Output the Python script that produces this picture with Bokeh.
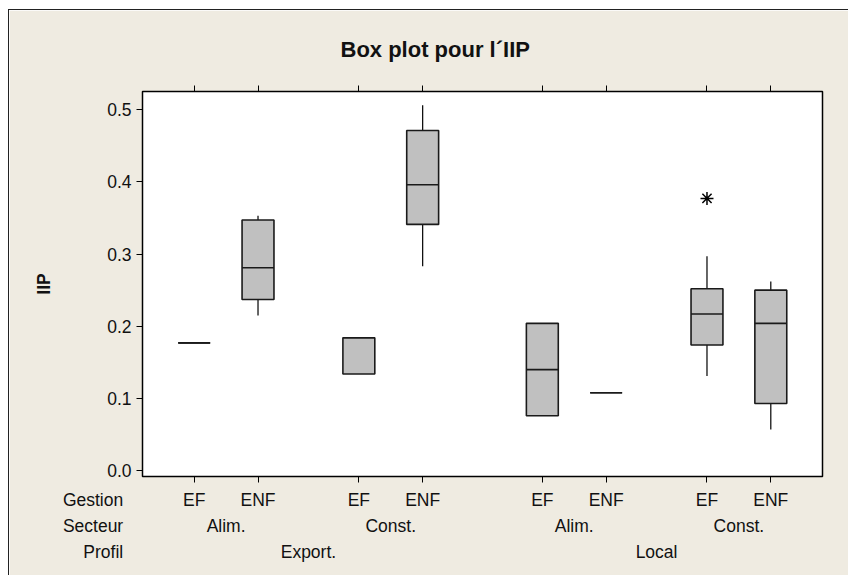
from bokeh.plotting import figure
from bokeh.models import (FactorRange, Range1d, CategoricalAxis, FixedTicker,
                          PrintfTickFormatter, ColumnDataSource)
from bokeh.core.properties import value
from bokeh.embed import file_html
from bokeh.resources import INLINE

# ---- data ----
profil = ["Export.", "Export.", "Export.", "Export.", "Local", "Local", "Local", "Local"]
secteur = ["Alim.", "Alim.", "Const.", "Const.", "Alim.", "Alim.", "Const.", "Const."]
gestion = ["EF", "ENF", "EF", "ENF", "EF", "ENF", "EF", "ENF"]
whisker_low = [0.177, 0.215, 0.134, 0.283, 0.076, 0.108, 0.131, 0.057]
q1 = [0.177, 0.237, 0.134, 0.341, 0.076, 0.108, 0.174, 0.093]
median = [0.177, 0.281, 0.184, 0.396, 0.140, 0.108, 0.217, 0.204]
q3 = [0.177, 0.347, 0.184, 0.471, 0.204, 0.108, 0.252, 0.250]
whisker_high = [0.177, 0.353, 0.184, 0.506, 0.204, 0.108, 0.297, 0.262]
outlier_group = [("Local", "Const.", "EF")]
outlier_value = [0.377]
y_ticks = [0.0, 0.1, 0.2, 0.3, 0.4, 0.5]
row_names = ["Gestion", "Secteur", "Profil"]
title_text = "Box plot pour l\u00b4IIP"

FONT = "Liberation Sans"
FS = "17.5px"
BG = "#EFEBE1"

factors = list(zip(profil, secteur, gestion))
src = ColumnDataSource(dict(x=factors, wlo=whisker_low, q1=q1, med=median,
                            q3=q3, whi=whisker_high))

x_range = FactorRange(*factors, factor_padding=0.0, subgroup_padding=0.58,
                      group_padding=0.875, range_padding=0.31,
                      range_padding_units="absolute")
y_range = Range1d(-0.008, 0.525)

p = figure(x_range=x_range, y_range=y_range, title=title_text,
           width=840, height=566, output_backend="svg", toolbar_location=None,
           min_border_left=133, min_border_right=27, min_border_top=81,
           min_border_bottom=100, background_fill_color="white",
           border_fill_color=BG, outline_line_color="black",
           outline_line_width=1.5, x_axis_location=None)
p.styles = {"margin-left": "8px", "margin-top": "9px",
            "border-left": "1px solid #222", "border-top": "1px solid #222"}
p.grid.visible = False

p.title.text_font = FONT
p.title.text_font_size = "22px"
p.title.text_font_style = "bold"
p.title.text_color = "#111"
p.title.align = "left"
p.title.offset = 198
p.title.standoff = 47

# whiskers
p.segment(x0="x", y0="q3", x1="x", y1="whi", source=src, line_color="black", line_width=1.2)
p.segment(x0="x", y0="wlo", x1="x", y1="q1", source=src, line_color="black", line_width=1.2)
# boxes
p.vbar(x="x", width=0.5, bottom="q1", top="q3", source=src, fill_color="#C0C0C0",
       line_color="#1a1a1a", line_width=1.6)
# medians
p.vbar(x="x", width=0.5, bottom="med", top="med", source=src, fill_color=None,
       line_color="#1a1a1a", line_width=1.6)
# outlier
p.scatter(x=outlier_group, y=outlier_value, marker="asterisk", size=13,
          line_color="black", line_width=1.5)

# y axis
yax = p.yaxis[0]
yax.ticker = FixedTicker(ticks=y_ticks)
yax.formatter = PrintfTickFormatter(format="%.1f")
yax.major_tick_out = 6
yax.major_tick_in = 0
yax.minor_tick_line_color = None
yax.major_label_standoff = 5
yax.major_label_text_font = FONT
yax.major_label_text_font_size = FS
yax.major_label_text_color = "#111"
yax.axis_label = "IIP"
yax.axis_label_text_font = FONT
yax.axis_label_text_font_style = "bold"
yax.axis_label_text_font_size = FS
yax.axis_label_text_color = "#111"
yax.axis_label_standoff = 50
yax.axis_line_color = "black"

# bottom axis 1: tick marks only
ax_ticks = CategoricalAxis(major_tick_out=6, major_tick_in=0,
                           major_label_standoff=0,
                           major_label_text_font_size="0px",
                           major_label_text_color=None,
                           subgroup_text_font_size="0px", subgroup_text_color=None,
                           group_text_font_size="0px", group_text_color=None,
                           separator_line_color=None, axis_line_color="black")
p.add_layout(ax_ticks, "below")
# bottom axis 2: the three rows of labels (invisible ticks push them down)
ax_lab = CategoricalAxis(major_tick_out=4, major_tick_in=0,
                         major_tick_line_color=None, axis_line_color=None,
                         major_label_standoff=3, separator_line_color=None,
                         major_label_orientation="horizontal",
                         subgroup_label_orientation="horizontal",
                         group_label_orientation="horizontal")
for attr in ("major_label_text", "subgroup_text", "group_text"):
    setattr(ax_lab, attr + "_font", FONT)
    setattr(ax_lab, attr + "_font_size", FS)
    setattr(ax_lab, attr + "_color", "#111")
    setattr(ax_lab, attr + "_font_style", "normal")
p.add_layout(ax_lab, "below")

# top axis: tick marks only
top = CategoricalAxis(major_tick_out=6, major_tick_in=0, major_label_standoff=0,
                      major_label_text_font_size="0px", major_label_text_color=None,
                      subgroup_text_font_size="0px", subgroup_text_color=None,
                      group_text_font_size="0px", group_text_color=None,
                      separator_line_color=None, axis_line_color="black")
p.add_layout(top, "above")

# row names, left of the first factor, beside the three label rows
row_src = ColumnDataSource(dict(x=[factors[0]] * 3, y=[y_range.start] * 3,
                                text=row_names, yo=[23, 49, 75]))
p.text(x="x", y="y", text="text", source=row_src, x_offset=-71, y_offset="yo",
       text_align="right", text_baseline="middle", text_font=value(FONT),
       text_font_size=value(FS), text_color="#111", level="overlay")

open("out.html", "w").write(file_html(p, INLINE))
